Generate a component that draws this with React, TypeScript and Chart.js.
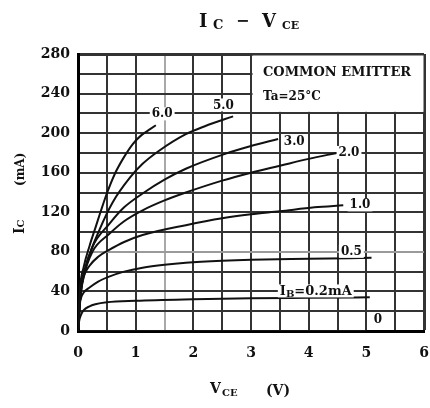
import React, { useEffect, useRef } from 'react';
import { Chart, registerables } from 'chart.js';
Chart.register(...registerables);

// Collector-emitter voltage (V) and collector current (mA) for each base current
const vce60 = [0, 0.03, 0.1, 0.2, 0.3, 0.4, 0.5, 0.64, 0.8, 0.95, 1.1, 1.25, 1.35];
const ic60 = [0, 40, 65, 86, 104, 122, 139, 159, 176, 189, 198, 204, 208];
const vce50 = [0, 0.05, 0.15, 0.37, 0.6, 0.9, 1.12, 1.4, 1.87, 2.2, 2.69];
const ic50 = [0, 42, 68, 102, 130, 155, 169, 182, 199, 207, 217];
const vce30 = [0, 0.05, 0.1, 0.25, 0.54, 0.8, 1.12, 1.5, 1.87, 2.55, 3.0, 3.47];
const ic30 = [0, 40, 58, 85, 108, 125, 139, 153, 164, 179, 187, 194];
const vce20 = [0, 0.05, 0.1, 0.25, 0.54, 0.8, 1.12, 1.5, 1.87, 2.5, 3.0, 3.5, 4.0, 4.49];
const ic20 = [0, 38, 55, 80, 98, 111, 122, 132, 140, 152, 160, 167, 174, 180];
const vce10 = [0, 0.05, 0.1, 0.2, 0.35, 0.54, 0.8, 1.12, 1.87, 2.5, 3.0, 3.5, 4.1, 4.6];
const ic10 = [0, 40, 55, 66, 75, 82, 90, 97, 107, 114, 118, 121, 125, 127];
const vce05 = [0, 0.02, 0.05, 0.1, 0.2, 0.35, 0.54, 0.8, 1.12, 1.5, 1.87, 2.5, 3.0, 4.0, 5.09];
const ic05 = [0, 25, 33, 39, 44, 50, 55, 60, 64, 67, 69, 71, 72, 73, 74];
const vce02 = [0, 0.02, 0.05, 0.1, 0.2, 0.3, 0.5, 1.0, 2.0, 3.0, 4.0, 5.06];
const ic02 = [0, 10, 16, 21, 25, 27, 29, 30.5, 32, 33, 33.5, 34];
const vce00 = [0, 5.0];
const ic00 = [0, 0];

const curveLabels = ['6.0', '5.0', '3.0', '2.0', '1.0', '0.5', '0'];
const labelV = [1.46, 2.52, 3.75, 4.7, 4.89, 4.74, 5.2];
const labelI = [219, 228, 191, 180, 127, 80, 11];

const xTickValues = [0, 1, 2, 3, 4, 5, 6];
const yTickValues = [0, 40, 80, 120, 160, 200, 240, 280];

const SERIF = "'DejaVu Serif', 'Liberation Serif', serif";

function pairs(xs: number[], ys: number[]) {
  return xs.map((x, i) => ({ x, y: ys[i] }));
}

const seriesList = [
  [vce60, ic60], [vce50, ic50], [vce30, ic30], [vce20, ic20],
  [vce10, ic10], [vce05, ic05], [vce02, ic02], [vce00, ic00],
];

function drawParts(ctx: CanvasRenderingContext2D, x: number, y: number, parts: [string, number, number][]) {
  let cx = x;
  for (const [t, size, dy] of parts) {
    ctx.font = `bold ${size}px ${SERIF}`;
    ctx.fillText(t, cx, y + dy);
    cx += ctx.measureText(t).width;
  }
  return cx - x;
}

function measureParts(ctx: CanvasRenderingContext2D, parts: [string, number, number][]) {
  let w = 0;
  for (const [t, size] of parts) {
    ctx.font = `bold ${size}px ${SERIF}`;
    w += ctx.measureText(t).width;
  }
  return w;
}

function textAt(ctx: CanvasRenderingContext2D, t: string, size: number, x: number, y: number) {
  ctx.font = `bold ${size}px ${SERIF}`;
  ctx.fillText(t, x, y);
}

const decorPlugin = {
  id: 'decor',
  beforeDatasetsDraw(chart: any) {
    const { ctx, scales } = chart;
    const xs = scales.x, ys = scales.y;
    ctx.save();
    ctx.fillStyle = '#fff';
    const l = xs.getPixelForValue(3) + 1.5;
    const r = xs.getPixelForValue(6) - 0.5;
    const t = ys.getPixelForValue(280) + 1.5;
    const b = ys.getPixelForValue(220) - 1.5;
    ctx.fillRect(l, t, r - l, b - t);
    ctx.restore();
  },
  afterDatasetsDraw(chart: any) {
    const { ctx, scales } = chart;
    const xs = scales.x, ys = scales.y;
    ctx.save();
    ctx.fillStyle = '#111';
    ctx.textBaseline = 'middle';
    ctx.textAlign = 'center';
    ctx.font = `bold 12px ${SERIF}`;
    curveLabels.forEach((lab, i) => {
      const px = xs.getPixelForValue(labelV[i]);
      const py = ys.getPixelForValue(labelI[i]);
      const w = ctx.measureText(lab).width;
      if (lab !== '0') {
        ctx.fillStyle = '#fff';
        ctx.fillRect(px - w / 2 - 2, py - 7, w + 4, 13);
      }
      ctx.fillStyle = '#111';
      ctx.fillText(lab, px, py);
    });
    const parts: [string, number, number][] = [['I', 13, 0], ['B', 10, 3], ['=0.2mA', 13, 0]];
    const lx = xs.getPixelForValue(3.5);
    const ly = ys.getPixelForValue(40);
    const w = measureParts(ctx, parts);
    ctx.fillStyle = '#fff';
    ctx.fillRect(lx - 2, ly - 7, w + 4, 13);
    ctx.fillStyle = '#111';
    ctx.textAlign = 'left';
    drawParts(ctx, lx, ly, parts);

    ctx.textBaseline = 'alphabetic';
    ctx.font = `bold 13px ${SERIF}`;
    ctx.fillText('COMMON EMITTER', 263, 76);
    ctx.font = `bold 12px ${SERIF}`;
    ctx.fillText('Ta=25°C', 263, 100);
    ctx.restore();
  },
  afterDraw(chart: any) {
    const { ctx } = chart;
    ctx.save();
    ctx.fillStyle = '#111';
    ctx.textBaseline = 'alphabetic';
    ctx.textAlign = 'left';
    // Title
    textAt(ctx, 'I', 18, 199, 27);
    textAt(ctx, 'C', 13, 213, 29);
    textAt(ctx, '\u2212', 16, 236, 26);
    textAt(ctx, 'V', 18, 262, 27);
    textAt(ctx, 'CE', 11, 282, 29);
    // X axis title
    textAt(ctx, 'V', 14, 210, 393);
    textAt(ctx, 'CE', 10, 222, 396);
    textAt(ctx, '(V)', 14, 266, 395);
    // Y axis title (rotated)
    ctx.translate(24, 234);
    ctx.rotate(-Math.PI / 2);
    drawParts(ctx, 0, 0, [['I', 14, 0], ['C', 10, 0]]);
    drawParts(ctx, 48, 0, [['(mA)', 12, 0]]);
    ctx.restore();
  },
};

export default function App() {
  const ref = useRef<HTMLCanvasElement | null>(null);
  useEffect(() => {
    if (!ref.current) return;
    const tickFont = { family: SERIF, size: 14, weight: 'bold' as const };
    const chart = new Chart(ref.current, {
      type: 'line',
      data: {
        datasets: seriesList.map(([xs, ys]) => ({
          data: pairs(xs, ys),
          borderColor: '#111',
          borderWidth: 2,
          pointRadius: 0,
          fill: false,
          cubicInterpolationMode: 'monotone' as const,
        })),
      },
      plugins: [decorPlugin],
      options: {
        animation: false,
        responsive: false,
        maintainAspectRatio: false,
        layout: { padding: { left: 0, right: 6, top: 54, bottom: 0 } },
        plugins: { legend: { display: false }, tooltip: { enabled: false }, title: { display: false } },
        scales: {
          x: {
            type: 'linear',
            min: 0,
            max: 6,
            ticks: {
              stepSize: 0.5,
              autoSkip: false,
              maxRotation: 0,
              padding: 14,
              color: '#111',
              font: tickFont,
              callback: (v: any) => (xTickValues.includes(Number(v)) ? String(v) : ''),
            },
            grid: {
              drawTicks: false,
              color: (c: any) => (c.tick && c.tick.value === 1.5 ? '#a8a8a8' : '#333'),
              lineWidth: (c: any) => (c.tick && c.tick.value === 6 ? 3 : 2),
            },
            border: { color: '#000', width: 3 },
            afterFit: (s: any) => { s.height = 77; s.paddingLeft = 0; s.paddingRight = 0; },
          },
          y: {
            type: 'linear',
            min: 0,
            max: 280,
            ticks: {
              stepSize: 20,
              autoSkip: false,
              padding: 8,
              color: '#111',
              font: tickFont,
              callback: (v: any) => (yTickValues.includes(Number(v)) ? String(v) : ''),
            },
            grid: {
              drawTicks: false,
              color: (c: any) => (c.tick && c.tick.value === 80 ? '#9a9a9a' : '#333'),
              lineWidth: (c: any) => (c.tick && c.tick.value === 280 ? 3 : 2),
            },
            border: { color: '#000', width: 3 },
            afterFit: (s: any) => { s.width = 78; s.paddingTop = 0; s.paddingBottom = 0; },
          },
        },
      },
    });
    return () => chart.destroy();
  }, []);
  return (
    <div style={{ position: 'absolute', left: 0, top: 0, width: 430, height: 408, background: '#fff' }}>
      <canvas ref={ref} width={430} height={408} style={{ width: 430, height: 408, display: 'block' }} />
    </div>
  );
}
